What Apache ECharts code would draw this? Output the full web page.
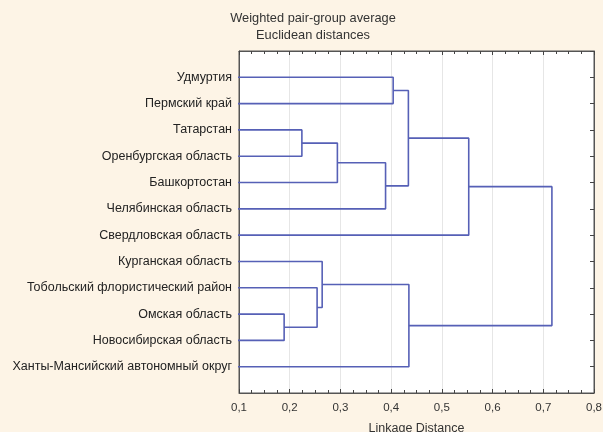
<!DOCTYPE html>
<html>
<head>
<meta charset="utf-8">
<script src="https://cdn.jsdelivr.net/npm/echarts@6/dist/echarts.min.js"></script>
<style>
html,body{margin:0;padding:0;background:#fdf4e6;}
#c{width:603px;height:432px;}
</style>
</head>
<body>
<div id="c"></div>
<script>
// Leaves, top to bottom
const leaves = [
  'Удмуртия',
  'Пермский край',
  'Татарстан',
  'Оренбургская область',
  'Башкортостан',
  'Челябинская область',
  'Свердловская область',
  'Курганская область',
  'Тобольский флористический район',
  'Омская область',
  'Новосибирская область',
  'Ханты-Мансийский автономный округ'
];
// Merge steps: cluster ids 0..11 are leaves, new clusters get ids 12, 13, ...
const mergeA = [0, 2, 13, 14, 12, 16, 9, 8, 7, 20, 17];
const mergeB = [1, 3, 4, 5, 15, 6, 10, 18, 19, 11, 21];
const mergeHeight = [0.404, 0.224, 0.294, 0.389, 0.434, 0.553, 0.189, 0.254, 0.264, 0.435, 0.717];
const xTicks = [0.1, 0.2, 0.3, 0.4, 0.5, 0.6, 0.7, 0.8];

const title1 = 'Weighted pair-group average';
const title2 = 'Euclidean distances';
const xName = 'Linkage Distance';

// Build node positions from data
const nodeY = leaves.map((_, i) => i + 1);
const nodeH = leaves.map(() => 0);
const series = [];
for (let k = 0; k < mergeA.length; k++) {
  const a = mergeA[k], b = mergeB[k], h = mergeHeight[k];
  series.push({
    type: 'line',
    data: [[nodeH[a], nodeY[a]], [h, nodeY[a]], [h, nodeY[b]], [nodeH[b], nodeY[b]]],
    symbol: 'none',
    clip: true,
    lineStyle: { color: '#5660b6', width: 1.6 },
    silent: true
  });
  nodeY.push((nodeY[a] + nodeY[b]) / 2);
  nodeH.push(h);
}

const chart = echarts.init(document.getElementById('c'), null, { renderer: 'canvas' });
const fontFam = '"Liberation Sans", Arial, sans-serif';
const xMin = xTicks[0], xMax = xTicks[xTicks.length - 1];
function baseX(pos) {
  return {
    type: 'value', min: xMin, max: xMax, interval: 0.1, position: pos,
    axisLine: { show: true, onZero: false, lineStyle: { color: '#555', width: 1 } },
    axisTick: { show: true, inside: true, length: 4, lineStyle: { color: '#444' } },
    minorTick: { show: true, splitNumber: 4, length: 3, lineStyle: { color: '#444' } },
    splitLine: { show: false }
  };
}
const xBottom = baseX('bottom');
Object.assign(xBottom, {
  name: xName, nameLocation: 'middle', nameGap: 29,
  nameTextStyle: { fontSize: 12.5, color: '#333', fontFamily: fontFam },
  axisLabel: { margin: 9, fontSize: 11.5, color: '#333', fontFamily: fontFam,
    formatter: v => v.toFixed(1).replace('.', ',') },
  splitLine: { show: true, lineStyle: { color: '#e6e6e6', width: 1 } }
});
const xTop = baseX('top');
xTop.axisLabel = { show: false };

chart.setOption({
  animation: false,
  backgroundColor: '#fdf4e6',
  title: {
    text: title1 + '\n' + title2,
    left: 308, top: 5, textAlign: 'center',
    textStyle: { fontSize: 12.8, fontWeight: 'normal', color: '#333', fontFamily: fontFam, lineHeight: 17 }
  },
  grid: { left: 239, right: 9, top: 51, bottom: 39, outerBoundsMode: 'none', containLabel: false,
    show: true, backgroundColor: '#fff', borderColor: '#555', borderWidth: 1 },
  xAxis: [xBottom, xTop],
  yAxis: [
    {
      type: 'value', min: 0, max: leaves.length + 1, interval: 1, inverse: true, position: 'left',
      axisLine: { show: true, onZero: false, lineStyle: { color: '#555' } },
      axisTick: { show: false },
      splitLine: { show: false },
      axisLabel: { margin: 7, fontSize: 12.5, color: '#222', fontFamily: fontFam,
        formatter: v => leaves[v - 1] || '' }
    },
    {
      type: 'value', min: 0, max: leaves.length + 1, interval: 1, inverse: true, position: 'right',
      axisLine: { show: true, onZero: false, lineStyle: { color: '#555' } },
      axisTick: { show: true, inside: true, length: 4, lineStyle: { color: '#444' } },
      splitLine: { show: false },
      axisLabel: { show: false }
    }
  ],
  series: series
});
</script>
</body>
</html>
